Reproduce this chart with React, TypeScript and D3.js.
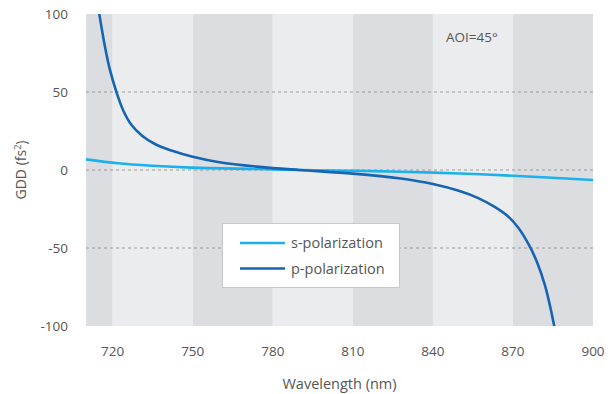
import React from 'react';
import * as d3 from 'd3';

// wavelength (nm) / GDD (fs^2)
const sWavelength = [710, 722, 735, 749.5, 775, 790, 810, 828, 850, 870, 900];
const sGdd = [6.8, 4.3, 2.7, 1.5, 0.6, 0, -0.5, -1.1, -2.2, -3.7, -6.4];

const pWavelength = [714.7, 717, 719, 721.4, 724, 727, 731, 736, 742, 750, 760, 775, 790, 810, 828, 840, 850, 857, 863, 868, 872, 876, 879, 882, 884, 885.7];
const pGdd = [103, 80, 64, 50, 38, 29, 22, 16.5, 12.5, 8.5, 5, 2, 0, -2.3, -5.5, -9, -13.5, -18, -23.5, -29.5, -37, -48, -59, -74, -88, -102];

const xTicks = [720, 750, 780, 810, 840, 870, 900];
const yTicks = [100, 50, 0, -50, -100];
const gridValues = [50, 0, -50];
// shaded bands behind the plot, alternating dark / light
const bandEdges = [710, 720, 750, 780, 810, 840, 870, 900];

const seriesNames = ['s-polarization', 'p-polarization'];
const seriesColors = ['#1bb1ec', '#1565b4'];

const W = 615, H = 394;
const margin = { top: 14, right: 22, bottom: 68, left: 86 };
const textColor = '#555';
const font = '"Open Sans", "Noto Sans", sans-serif';

export default function App() {
  const x = d3.scaleLinear().domain([710, 900]).range([margin.left, W - margin.right]);
  const y = d3.scaleLinear().domain([-100, 100]).range([H - margin.bottom, margin.top]);

  const line = d3.line<[number, number]>()
    .x(d => x(d[0]))
    .y(d => y(d[1]))
    .curve(d3.curveCatmullRom.alpha(0.5));

  const sPath = line(sWavelength.map((w, i) => [w, sGdd[i]] as [number, number])) || '';
  const pPath = line(pWavelength.map((w, i) => [w, pGdd[i]] as [number, number])) || '';

  const left = x(710), right = x(900), top = y(100), bottom = y(-100);

  return (
    <svg width={W} height={H} style={{ position: 'absolute', left: 0, top: 0, fontFamily: font }}>
      <defs>
        <clipPath id="plot">
          <rect x={left} y={top} width={right - left} height={bottom - top} />
        </clipPath>
      </defs>

      {bandEdges.slice(0, -1).map((b, i) => (
        <rect key={b} x={x(b)} y={top} width={x(bandEdges[i + 1]) - x(b)} height={bottom - top}
          fill={i % 2 === 0 ? '#dcdde0' : '#ebeced'} />
      ))}

      {gridValues.map(v => (
        <line key={v} x1={left} x2={right} y1={y(v)} y2={y(v)}
          stroke="#9a9a9a" strokeWidth={1} strokeDasharray="3,3" />
      ))}

      <g clipPath="url(#plot)" fill="none" strokeWidth={2.6}>
        <path d={sPath} stroke={seriesColors[0]} />
        <path d={pPath} stroke={seriesColors[1]} />
      </g>

      {yTicks.map(v => (
        <text key={v} x={68} y={y(v) + 5} textAnchor="end" fontSize={13.5} fill={textColor}>{v}</text>
      ))}
      {xTicks.map(v => (
        <text key={v} x={x(v)} y={356} textAnchor="middle" fontSize={13.5} fill={textColor}>{v}</text>
      ))}

      <text x={(left + right) / 2} y={389} textAnchor="middle" fontSize={14.5} fill={textColor}>Wavelength (nm)</text>
      <text transform={`translate(26, ${y(0)}) rotate(-90)`} textAnchor="middle" fontSize={14} fill={textColor}>
        GDD (fs<tspan dy={-5} fontSize={9}>2</tspan><tspan dy={5}>)</tspan>
      </text>

      <text x={446} y={42} fontSize={13.5} fill={textColor}>AOI=45°</text>

      <g>
        <rect x={222.5} y={223.5} width={177} height={64} fill="#fff" stroke="#c8c8c8" strokeWidth={1} />
        {seriesNames.map((n, i) => (
          <g key={n}>
            <line x1={240} x2={285} y1={243 + i * 25.5} y2={243 + i * 25.5} stroke={seriesColors[i]} strokeWidth={2.6} />
            <text x={291} y={248 + i * 25.5} fontSize={14.5} fill={textColor}>{n}</text>
          </g>
        ))}
      </g>
    </svg>
  );
}
